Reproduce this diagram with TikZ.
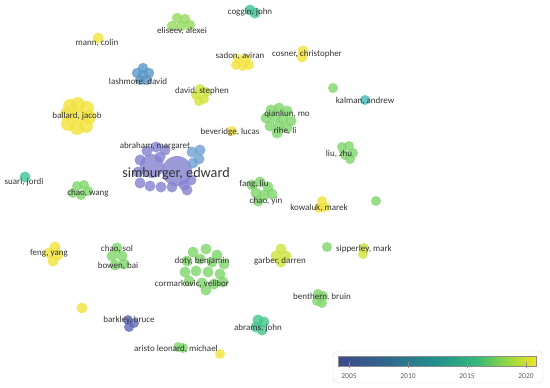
\documentclass[tikz,border=0pt]{standalone}
\usepackage{fontspec}
\setmainfont{Carlito}
\definecolor{cyel}{HTML}{F2E23A}
\definecolor{cyg}{HTML}{CFE23C}
\definecolor{cgrn}{HTML}{7ED46A}
\definecolor{clgrn}{HTML}{92D95E}
\definecolor{cteal}{HTML}{3EC39A}
\definecolor{ccyan}{HTML}{45B9B8}
\definecolor{cagrn}{HTML}{45C68C}
\definecolor{cblue}{HTML}{5A96C6}
\definecolor{clblue}{HTML}{6E9FD2}
\definecolor{cpurp}{HTML}{8481D0}
\definecolor{cnavy}{HTML}{5D68B6}
\definecolor{txt}{HTML}{333333}
\definecolor{v0}{HTML}{3E4989}
\definecolor{v1}{HTML}{31688E}
\definecolor{v2}{HTML}{21918C}
\definecolor{v3}{HTML}{35B779}
\definecolor{v4}{HTML}{90D743}
\definecolor{v5}{HTML}{F1E51D}
\pgfdeclarehorizontalshading{viridis}{100bp}{color(0bp)=(v0); color(25bp)=(v0); color(37.5bp)=(v1); color(50bp)=(v2); color(60bp)=(v3); color(67.5bp)=(v4); color(75bp)=(v5); color(100bp)=(v5)}
\tikzset{
  lab/.style={text=txt, font=\fontsize{9}{10}\selectfont, inner sep=0pt},
  biglab/.style={text=txt, font=\fontsize{14.2}{16}\selectfont, inner sep=0pt},
  tick/.style={text=txt!80, font=\fontsize{7.5}{8}\selectfont, inner sep=0pt},
  bub/.style={fill opacity=0.8, draw=none}
}
\newcommand{\bubs}[3]{\foreach \px/\py in {#3} {\fill[bub, fill=#1] (\px,\py) circle (#2);}}
\begin{document}
\begin{tikzpicture}[x=1pt,y=-1pt]
\useasboundingbox (0,0) rectangle (550,388);
% ---- bubbles ----
% coggin
\bubs{cteal}{5.5}{250/10, 255/13}
% eliseev
\bubs{clgrn}{5.2}{177/18, 185/19, 172/26, 181/26, 190/25}
% mann
\bubs{cyel}{5.5}{98/38}
% sadon
\bubs{cyel}{5}{238/59, 246/59, 236/65, 243/66, 249/65}
% cosner
\bubs{cyel}{5.5}{303/51, 302/57}
% lashmore
\bubs{cblue}{5.2}{143/68, 137/73, 149/73, 143/75, 140/80, 147/80}
% david
\bubs{cyg}{5}{200/89, 206/92, 196/95, 204/99, 199/101}
% ballard
\bubs{cyel}{7}{78/116, 78/104, 87/108, 89/117, 86/126, 77/128, 68/124, 67/114, 70/106}
% beveridge
\bubs{cyel}{5}{232/131}
% simburger
\bubs{cpurp}{15}{177/171}
\bubs{cpurp}{12}{152/166}
\bubs{cpurp}{5.5}{147/151, 156/147, 165/150, 160/157, 140/160, 138/172, 140/183, 150/186, 161/187, 172/187, 184/185, 191/180, 187/190}
\bubs{clblue}{5.5}{192/152, 200/150, 199/159, 193/163}
% suari
\bubs{cteal}{5.5}{25/177}
% chao wang
\bubs{cgrn}{5}{77/186, 84/185, 73/193, 81/195, 88/191}
% single green top right
\bubs{cgrn}{5}{333/88}
% kalman
\bubs{ccyan}{5}{365/100}
% qiankun
\bubs{cgrn}{5.5}{271/110, 279/108, 287/111, 266/118, 275/117, 283/119, 291/121, 270/126, 279/126, 287/128, 277/133}
% liu zhu
\bubs{cgrn}{5}{342/147, 349/146, 353/153, 345/155, 350/159}
% fang / chao yin
\bubs{cgrn}{5.5}{252/185, 260/182, 268/187, 256/193, 264/195, 272/194, 258/201}
% kowaluk
\bubs{cyel}{5}{322/201, 325/207, 319/208}
% single green right
\bubs{cgrn}{5}{376/201}
% sipperley
\bubs{cyg}{5}{364/248, 363/254}
\bubs{cgrn}{5}{327/247}
% garber
\bubs{cyg}{5.5}{281/249, 276/256, 286/256, 281/262}
% benthern
\bubs{cgrn}{5}{318/294, 323/296, 317/301, 322/303}
% abrams
\bubs{cagrn}{5.5}{258/320, 264/322, 256/327, 262/330}
% feng yang
\bubs{cyel}{5.5}{55/247, 49/253, 58/255, 53/261}
% chao sol / bowen
\bubs{cgrn}{5.5}{117/248, 112/256, 122/256, 115/265, 124/264}
% doty / cormarkovic
\bubs{cgrn}{5.5}{193/252, 206/249, 217/255, 187/261, 200/259, 212/262, 224/264, 185/272, 196/271, 208/272, 220/274, 189/281, 202/283, 214/284, 206/290, 223/282}
% single yellow left
\bubs{cyel}{5.5}{82/308}
% barkley
\bubs{cnavy}{5}{128/320, 134/323, 129/327}
% aristo
\bubs{cgrn}{5}{178/347, 183/348}
\bubs{cyel}{5}{220/354}
% ---- labels ----
\node[lab] (coggin) at (250,12) {coggin, john};
\node[lab] (eliseev) at (182,31) {eliseev, alexei};
\node[lab] (mann) at (97,43) {mann, colin};
\node[lab] (sadon) at (240,56) {sadon, aviran};
\node[lab] (cosner) at (307,54) {cosner, christopher};
\node[lab] (lashmore) at (138,82) {lashmore, david};
\node[lab] (david) at (202,91) {david, stephen};
\node[lab] (kalman) at (365,101) {kalman, andrew};
\node[lab] (qiankun) at (287,114) {qiankun, mo};
\node[lab] (ballard) at (77,116) {ballard, jacob};
\node[lab] (rihe) at (285,131) {rihe, li};
\node[lab] (beveridge) at (230,132) {beveridge, lucas};
\node[lab] (abraham) at (155,146) {abraham, margaret};
\node[lab] (liu) at (339,154) {liu, zhu};
\node[biglab] (simburger) at (176,174) {simburger, edward};
\node[lab] (suari) at (24,182) {suari, jordi};
\node[lab] (fang) at (254,184) {fang, liu};
\node[lab] (chaowang) at (88,193) {chao, wang};
\node[lab] (chaoyin) at (266,201) {chao, yin};
\node[lab] (kowaluk) at (319,208) {kowaluk, marek};
\node[lab] (chaosol) at (117,249) {chao, sol};
\node[lab] (sipperley) at (364,249) {sipperley, mark};
\node[lab] (feng) at (49,253) {feng, yang};
\node[lab] (doty) at (202,261) {doty, benjamin};
\node[lab] (garber) at (280,261) {garber, darren};
\node[lab] (bowen) at (118,266) {bowen, bai};
\node[lab] (cormarkovic) at (192,284) {cormarkovic, velibor};
\node[lab] (benthern) at (322,297) {benthern, bruin};
\node[lab] (barkley) at (129,320) {barkley, bruce};
\node[lab] (abrams) at (258,328) {abrams, john};
\node[lab] (aristo) at (176,349) {aristo leonard, michael};
% ---- legend ----
\draw[draw=black!12, fill=white, rounded corners=5pt] (333,351) rectangle (543,383);
\shade[shading=viridis, draw=black!45, line width=0.3pt] (338,356) rectangle (536,366);
\foreach \tx/\yr in {349/2005, 408/2010, 467/2015, 526/2020} {
  \draw[black!45, line width=0.4pt] (\tx,362) -- (\tx,368);
  \node[tick] (y\yr) at (\tx,376) {\yr};
}
\end{tikzpicture}
\end{document}
